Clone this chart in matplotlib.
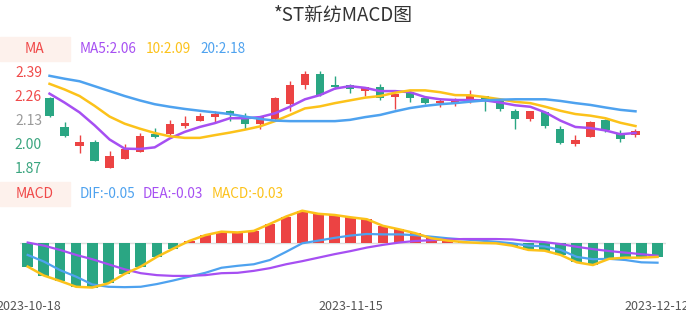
import matplotlib
matplotlib.use("Agg")
import matplotlib.pyplot as plt
from matplotlib.patches import Rectangle

plt.rcParams['font.family'] = ['Noto Sans CJK SC', 'DejaVu Sans']

# candles (open, close, high, low), 2023-10-18 .. 2023-12-12
opens = [2.25, 2.09, 1.986, 2.01, 1.866, 1.916, 1.956, 2.05, 2.055, 2.094,
         2.126, 2.148, 2.18, 2.153, 2.109, 2.135, 2.216, 2.32, 2.381, 2.324,
         2.32, 2.288, 2.309, 2.255, 2.284, 2.252, 2.223, 2.22, 2.234, 2.259,
         2.243, 2.18, 2.135, 2.171, 2.082, 1.995, 2.037, 2.13, 2.058, 2.046]
closes = [2.15, 2.04, 2.01, 1.906, 1.93, 1.97, 2.04, 2.037, 2.109, 2.112,
          2.153, 2.162, 2.157, 2.109, 2.145, 2.252, 2.324, 2.381, 2.266, 2.309,
          2.297, 2.309, 2.248, 2.27, 2.248, 2.22, 2.234, 2.234, 2.261, 2.245,
          2.189, 2.135, 2.18, 2.096, 2.005, 2.021, 2.121, 2.076, 2.024, 2.069]
highs = [2.255, 2.118, 2.049, 2.017, 1.957, 1.997, 2.058, 2.087, 2.13, 2.15,
         2.168, 2.18, 2.185, 2.166, 2.15, 2.255, 2.342, 2.40, 2.40, 2.372,
         2.328, 2.31, 2.329, 2.272, 2.29, 2.253, 2.248, 2.248, 2.292, 2.262,
         2.245, 2.19, 2.18, 2.175, 2.099, 2.049, 2.125, 2.135, 2.072, 2.078]
lows = [2.148, 2.035, 1.947, 1.905, 1.866, 1.916, 1.951, 2.03, 2.04, 2.087,
        2.126, 2.121, 2.126, 2.082, 2.078, 2.126, 2.18, 2.30, 2.26, 2.302,
        2.279, 2.261, 2.239, 2.19, 2.23, 2.218, 2.198, 2.207, 2.22, 2.18,
        2.18, 2.078, 2.126, 2.087, 1.995, 1.986, 2.035, 2.064, 2.006, 2.037]

ma5 = [2.274, 2.225, 2.171, 2.10, 2.022, 1.972, 1.97, 1.979, 2.028, 2.064,
       2.091, 2.112, 2.139, 2.139, 2.145, 2.166, 2.202, 2.243, 2.266, 2.302,
       2.315, 2.306, 2.288, 2.288, 2.282, 2.255, 2.243, 2.239, 2.239, 2.237,
       2.225, 2.21, 2.202, 2.171, 2.126, 2.091, 2.085, 2.072, 2.051, 2.058]
ma10 = [2.328, 2.297, 2.261, 2.207, 2.148, 2.109, 2.082, 2.058, 2.04, 2.031,
        2.031, 2.046, 2.06, 2.076, 2.094, 2.123, 2.157, 2.193, 2.204, 2.222,
        2.237, 2.252, 2.261, 2.279, 2.292, 2.292, 2.282, 2.266, 2.265, 2.255,
        2.243, 2.229, 2.222, 2.202, 2.18, 2.162, 2.153, 2.139, 2.114, 2.096]
ma20 = [2.372, 2.356, 2.342, 2.315, 2.288, 2.261, 2.237, 2.216, 2.202, 2.19,
        2.18, 2.171, 2.162, 2.148, 2.135, 2.126, 2.123, 2.123, 2.123, 2.123,
        2.13, 2.145, 2.157, 2.177, 2.195, 2.207, 2.216, 2.222, 2.23, 2.237,
        2.241, 2.243, 2.243, 2.243, 2.234, 2.222, 2.212, 2.198, 2.185, 2.177]

macd = [-0.060, -0.083, -0.097, -0.112, -0.114, -0.103, -0.079, -0.060, -0.035, -0.014,
        0.006, 0.021, 0.030, 0.028, 0.032, 0.050, 0.069, 0.084, 0.076, 0.073,
        0.067, 0.062, 0.045, 0.036, 0.026, 0.013, 0.007, 0.003, 0.001, 0.0,
        -0.006, -0.017, -0.019, -0.030, -0.049, -0.056, -0.040, -0.037, -0.037, -0.035]
dif = [-0.030, -0.047, -0.069, -0.086, -0.106, -0.112, -0.113, -0.112, -0.105, -0.096,
       -0.086, -0.076, -0.063, -0.058, -0.054, -0.043, -0.022, 0.0, 0.007, 0.014,
       0.020, 0.024, 0.023, 0.023, 0.021, 0.017, 0.013, 0.010, 0.007, 0.004,
       0.0, -0.006, -0.008, -0.017, -0.035, -0.041, -0.040, -0.043, -0.049, -0.050]
dea = [0.002, -0.006, -0.017, -0.030, -0.041, -0.054, -0.067, -0.077, -0.082, -0.084,
       -0.084, -0.082, -0.077, -0.076, -0.071, -0.064, -0.054, -0.046, -0.037, -0.028,
       -0.020, -0.011, -0.004, 0.002, 0.006, 0.008, 0.010, 0.011, 0.011, 0.011,
       0.010, 0.006, 0.003, -0.002, -0.009, -0.015, -0.020, -0.024, -0.028, -0.032]

date_labels = ['2023-10-18', '2023-11-15', '2023-12-12']
date_idx = [0, 20, 39]
price_ticks = [2.39, 2.26, 2.13, 2.00, 1.87]
tick_colors = ['#f04a4a', '#f04a4a', '#9a9a9a', '#3aa57f', '#3aa57f']

RED = '#ec4343'
GREEN = '#2aa683'
PURPLE = '#a64ff2'
YELLOW = '#fcc21a'
BLUE = '#4ea2ef'

W, H = 686, 320
fig = plt.figure(figsize=(W / 100, H / 100), dpi=100)


def rect(x0, y0, x1, y1):
    return [x0 / W, 1 - y1 / H, (x1 - x0) / W, (y1 - y0) / H]


def ftext(x, y, s, **kw):
    fig.text(x / W, 1 - y / H, s, **kw)


n = len(opens)
xs = list(range(n))

# price panel
ax1 = fig.add_axes(rect(42, 65, 643, 175))
for i in xs:
    c = RED if closes[i] >= opens[i] else GREEN
    ax1.vlines(i, lows[i], highs[i], color=c, linewidth=1.0, zorder=2)
    lo, hi = min(opens[i], closes[i]), max(opens[i], closes[i])
    ax1.bar(i, max(hi - lo, 0.003), bottom=lo, width=0.55, color=c, zorder=3)
ax1.plot(xs, ma5, color=PURPLE, lw=1.8, zorder=4)
ax1.plot(xs, ma10, color=YELLOW, lw=1.8, zorder=4)
ax1.plot(xs, ma20, color=BLUE, lw=1.8, zorder=4)
ax1.set_xlim(-0.5, n - 0.5)
ax1.set_ylim(1.8271, 2.4314)
ax1.axis('off')

for v, col in zip(price_ticks, tick_colors):
    y_px = 72.7 + (2.39 - v) * 185.8
    ftext(42, y_px, f'{v:.2f}', color=col, fontsize=10, ha='right', va='center')

# macd panel
ax2 = fig.add_axes(rect(19.6, 205, 665.6, 295))
ax2.axhline(0, color='#dddddd', lw=1, zorder=1)
bar_cols = [RED if v > 0 else GREEN for v in macd]
ax2.bar(xs, macd, width=0.66, color=bar_cols, zorder=2)
ax2.plot(xs, dif, color=BLUE, lw=1.6, zorder=3)
ax2.plot(xs, dea, color=PURPLE, lw=1.6, zorder=3)
ax2.plot(xs, macd, color=YELLOW, lw=1.8, zorder=4)
ax2.set_xlim(-0.5, n - 0.5)
ax2.set_ylim(-0.1332, 0.0987)
ax2.axis('off')

for idx, lab in zip(date_idx, date_labels):
    x_px = 19.6 + (idx + 0.5) * 646 / n
    x_px = min(max(x_px, 29), 657)
    ftext(x_px, 307, lab, color='#555555', fontsize=9, ha='center', va='center')

# title and legend strips
ftext(343, 15, '*ST新纺MACD图', color='#333333', fontsize=13.5, ha='center', va='center')

for y0, y1, lab in [(37, 61, 'MA'), (182, 206, 'MACD')]:
    fig.patches.append(Rectangle((0, 1 - y1 / H), 70 / W, (y1 - y0) / H,
                                 transform=fig.transFigure, color='#fdf1ec', zorder=0))
    ftext(35, (y0 + y1) / 2, lab, color='#f04a4a', fontsize=10, ha='center', va='center')

ftext(80, 49, 'MA5:2.06', color=PURPLE, fontsize=9.8, va='center')
ftext(146, 49, '10:2.09', color=YELLOW, fontsize=9.8, va='center')
ftext(200, 49, '20:2.18', color=BLUE, fontsize=9.8, va='center')
ftext(80, 194, 'DIF:-0.05', color=BLUE, fontsize=9.8, va='center')
ftext(143, 194, 'DEA:-0.03', color=PURPLE, fontsize=9.8, va='center')
ftext(212, 194, 'MACD:-0.03', color=YELLOW, fontsize=9.8, va='center')

fig.savefig('out.png', dpi=100)
